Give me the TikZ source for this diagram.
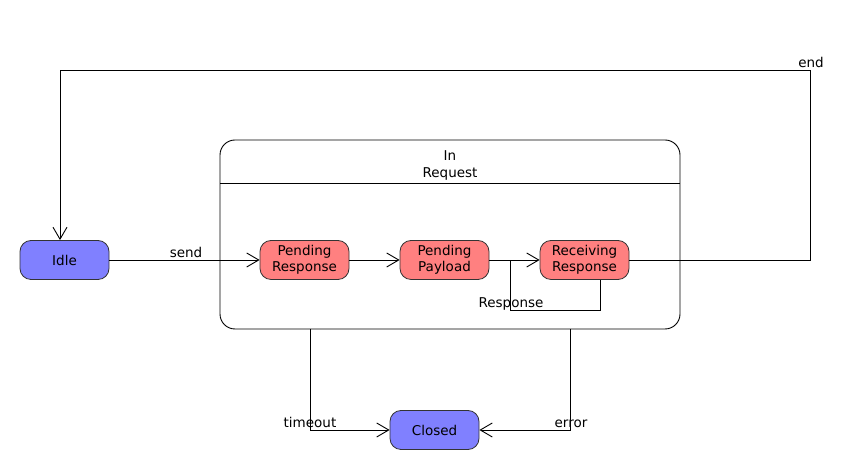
\documentclass[tikz,border=0pt]{standalone}
\usepackage{fontspec}
\setmainfont{DejaVu Sans}
\usetikzlibrary{arrows.meta}
\definecolor{stblue}{HTML}{8080FF}
\definecolor{stred}{HTML}{FF8080}
\tikzset{
  st/.style={draw=black!80, line width=0.8pt, rounded corners=11pt, minimum width=89pt, minimum height=39pt, inner sep=0pt, align=center, font=\fontsize{13.5}{16.5}\selectfont},
  blue/.style={st, fill=stblue},
  red/.style={st, fill=stred},
  conn/.style={line width=0.9pt, -{Straight Barb[length=12pt,width=14pt,line width=0.9pt]}},
  plain/.style={line width=0.9pt},
  lbl/.style={font=\fontsize{13.5}{16.5}\selectfont, inner sep=0pt}
}
\begin{document}
\begin{tikzpicture}[x=1pt,y=1pt]
\useasboundingbox (0,0) rectangle (864,470);
% composite state
\node[draw=black, line width=0.9pt, rounded corners=15pt, minimum width=460pt, minimum height=189pt, inner sep=0pt] (comp) at (450,235.5) {};
\coordinate (dl) at (220,287);
\coordinate (dr) at (680,287);
\draw[plain] (dl) -- (dr);
\node[lbl, align=center] (ctitle) at (450,304.5) {In\\Request};
% states
\node[blue] (idle) at (64.5,210) {Idle};
\node[red] (pr) at (304.5,210) {Pending\\Response};
\node[red] (pp) at (444.5,210) {Pending\\Payload};
\node[red] (rr) at (584.5,210) {Receiving\\Response};
\node[blue] (closed) at (434.5,40) {Closed};
% send
\draw[conn] (idle.east) -- (pr.west);
\node[lbl] (lsend) at (186,218) {send};
\draw[conn] (pr.east) -- (pp.west);
\coordinate (l2) at (510,160);
\draw[plain] (pp.east) -- (l2 |- pp.east);
% self loop
\coordinate (l1) at (600,160);
\draw[conn] (rr.south -| l1) -- (l1) -- (l2) -- (l2 |- rr.west) -- (rr.west);
\node[lbl] (lresp) at (511,166.5) {Response};
% end
\coordinate (e1) at (810,210);
\coordinate (e2) at (810,400);
\coordinate (e3) at (60,400);
\draw[conn] (rr.east) -- (e1) -- (e2) -- (e3) -- (e3 |- idle.north);
\node[lbl] (lend) at (811,408) {end};
% timeout
\coordinate (t1) at (310,141);
\draw[conn] (t1) |- (closed.west);
\node[lbl] (ltimeout) at (310,48) {timeout};
% error
\coordinate (r1) at (570,141);
\draw[conn] (r1) |- (closed.east);
\node[lbl] (lerror) at (571,46.5) {error};
\end{tikzpicture}
\end{document}
